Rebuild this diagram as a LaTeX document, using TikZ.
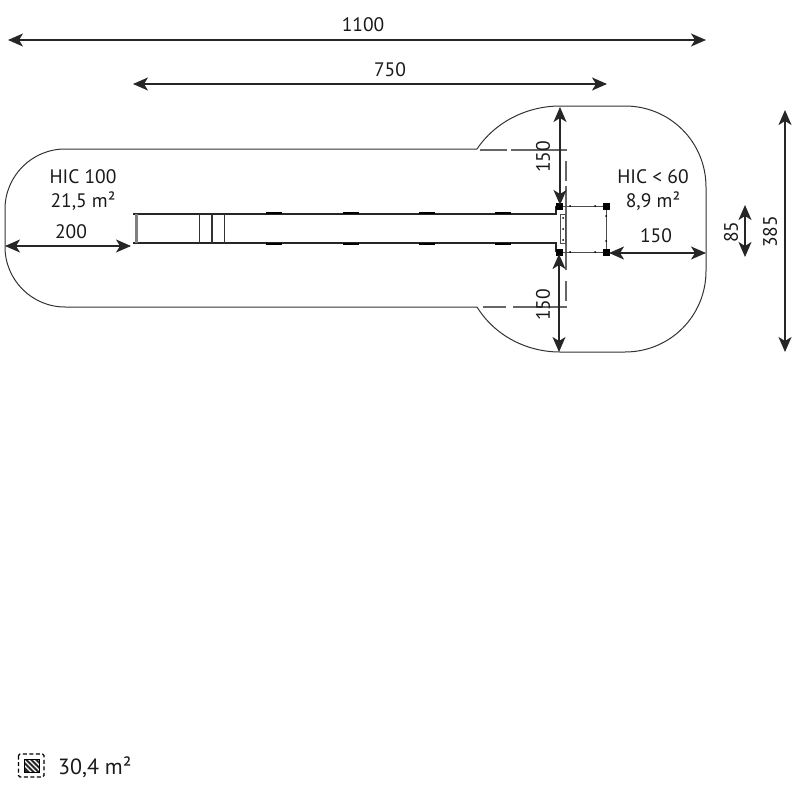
\documentclass[tikz,border=0pt]{standalone}
\usepackage{fontspec}
\setmainfont{PT Sans}
\usetikzlibrary{arrows.meta}
\begin{document}
\begin{tikzpicture}[
		x=1pt,
		y=-1pt,
		cota/.style={
			{Stealth[length=15pt,width=13pt,inset=4pt]}-{Stealth[length=15pt,width=13pt,inset=4pt]},
			line width=1.5pt,
			color=black!85
		},
		contorno/.style={
			line width=1pt,
			color=black!80
		},
		tracejado/.style={
			line width=1.2pt,
			color=black!60
		},
		trilho/.style={
			line width=2pt,
			color=black!85
		},
		poste/.style={
			fill=black,
			draw=none,
			rectangle,
			minimum size=7pt,
			inner sep=0pt
		},
		rotulo/.style={
			font=\fontsize{19.5}{22}\selectfont,
			inner sep=0pt,
			text=black!90
		}
		]
		\useasboundingbox (0,0) rectangle (800,800);
		
		%Pontos das cotas
		\coordinate (a1) at (8,40);
		\coordinate (a2) at (706,40);
		\coordinate (b1) at (133,84);
		\coordinate (b2) at (607,84);
		\coordinate (c1) at (785,110);
		\coordinate (c2) at (785,352);
		\coordinate (d1) at (745,205);
		\coordinate (d2) at (745,257);
		\coordinate (e1) at (560,107);
		\coordinate (e2) at (560,205);
		\coordinate (f1) at (559,254);
		\coordinate (f2) at (559,352);
		\coordinate (g1) at (5,246);
		\coordinate (g2) at (131,246);
		\coordinate (h1) at (609,253);
		\coordinate (h2) at (706,253);
		
		%Contorno
		\draw[contorno] (477,149) -- (65,149) .. controls (32,149) and (5,176) .. (5,209) -- (5,247)
			.. controls (5,280) and (32,307) .. (65,307) -- (477,307);
		\draw[contorno] (477,149) .. controls (495,122) and (527,106) .. (560,106) -- (625,106)
			.. controls (670,106) and (706,142) .. (706,187) -- (706,271)
			.. controls (706,316) and (670,352) .. (625,352) -- (560,352)
			.. controls (527,352) and (495,336) .. (477,307);
		
		%Tracejado
		\draw[tracejado] (480,150) -- (507,150) (511,150) -- (567,150);
		\draw[tracejado] (483,307) -- (506,307) (513,307) -- (567,307);
		\draw[tracejado] (566,161) -- (566,181) (566,186) -- (566,270) (566,281) -- (566,301);
		
		%Escorregador
		\draw[trilho] (133,214) -- (556,214) -- (556,206);
		\draw[trilho] (133,243) -- (556,243) -- (556,252);
		\draw[line width=3pt,color=black!50] (136,214) -- (136,243);
		\foreach \xc/\lw in {199/0.9,212/1.1,224/0.9}
			\draw[line width=\lw pt,color=black!80] (\xc,214) -- (\xc,243);
		\foreach \xc in {274,351,427,503} {
			\draw[line width=2pt] (\xc-8,213) -- (\xc+8,213);
			\draw[line width=2pt] (\xc-8,244) -- (\xc+8,244);
		}
		
		%Plataforma
		\draw[line width=1pt,color=black!70] (560,214) rectangle (565,243);
		\draw[line width=1pt,color=black!70] (559,206) -- (606,206) -- (606,252) -- (559,252);
		\node[poste] (p1) at (559,206) {};
		\node[poste] (p2) at (559,252) {};
		\node[poste] (p3) at (606,206) {};
		\node[poste] (p4) at (606,252) {};
		\foreach \xc/\yc in {570/206,595/206,570/252,595/252,606/216,606/241,563/218,563/229,563/240}
			\fill (\xc,\yc) circle (1pt);
		
		%Cotas
		\draw[cota] (a1) -- (a2);
		\draw[cota] (b1) -- (b2);
		\draw[cota] (c1) -- (c2);
		\draw[cota] (d1) -- (d2);
		\draw[cota] (e1) -- (e2);
		\draw[cota] (f1) -- (f2);
		\draw[cota] (g1) -- (g2);
		\draw[cota] (h1) -- (h2);
		
		%Textos
		\node[rotulo] (t1100) at (363,25) {1100};
		\node[rotulo] (t750) at (390,70) {750};
		\node[rotulo] (t200) at (71,232) {200};
		\node[rotulo] (t150c) at (656,236) {150};
		\node[rotulo,rotate=90] (t150a) at (543,157) {150};
		\node[rotulo,rotate=90] (t150b) at (543,305) {150};
		\node[rotulo,rotate=90] (t85) at (731,232) {85};
		\node[rotulo,rotate=90] (t385) at (770,232) {385};
		\node[rotulo] (hic1) at (83,177) {HIC 100};
		\node[rotulo] (area1) at (83,201) {21,5 m²};
		\node[rotulo] (hic2) at (653,177) {HIC < 60};
		\node[rotulo] (area2) at (653,201) {8,9 m²};
		
		%Legenda
		\draw[line width=1.2pt,dash pattern=on 4pt off 2.5pt,rounded corners=1.5pt] (18.5,754) rectangle (44,777);
		\begin{scope}
			\clip (24,759.5) rectangle (39.5,772);
			\fill[black!85] (24,759.5) rectangle (39.5,772);
			\foreach \xc in {14,19,24,29,34,39}
				\draw[white,line width=1.3pt] (\xc,755) -- (\xc+20,775);
		\end{scope}
		\draw[line width=1pt] (24,759.5) rectangle (39.5,772);
		\node[rotulo,anchor=west,font=\fontsize{22}{24}\selectfont] (area3) at (58,767) {30,4 m²};
		
	\end{tikzpicture}
\end{document}
